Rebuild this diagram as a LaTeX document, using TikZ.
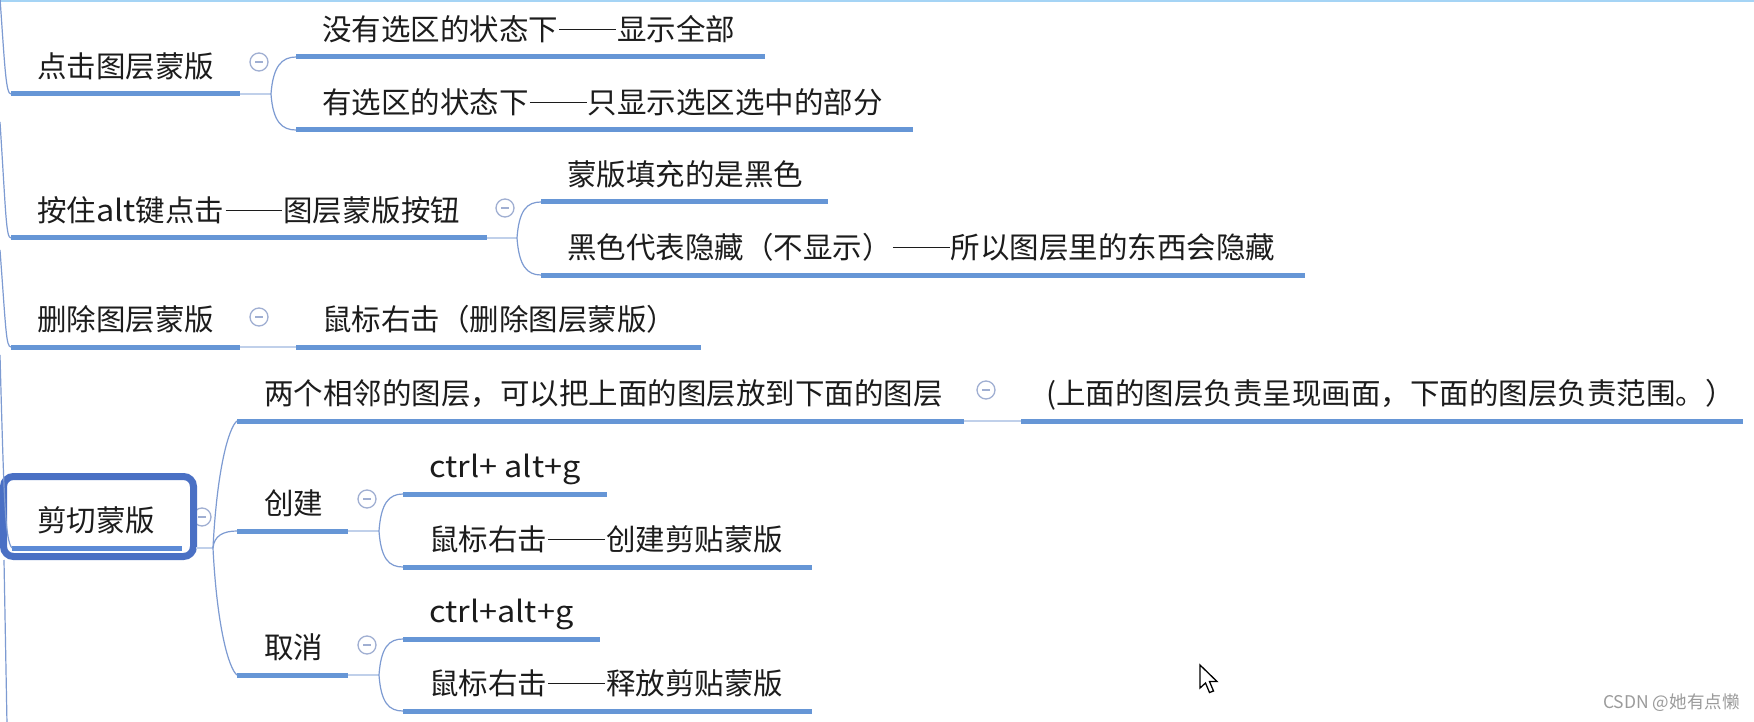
\documentclass[tikz,border=0pt]{standalone}
\usepackage{fontspec}
\setmainfont{Noto Sans CJK SC}
\newfontfamily\latw[FakeStretch=1.1]{Noto Sans CJK SC}
\usetikzlibrary{calc}
\definecolor{ulc}{RGB}{102,150,214}
\definecolor{ulc2}{RGB}{92,138,214}
\definecolor{boxc}{RGB}{74,112,196}
\definecolor{brc}{RGB}{125,155,210}
\definecolor{stc}{RGB}{192,208,234}
\definecolor{circc}{RGB}{160,175,210}
\definecolor{topc}{RGB}{165,212,245}
\definecolor{txtc}{RGB}{28,28,28}
\definecolor{wmc}{RGB}{155,155,155}

\newcommand\dd{\hspace{0.04em}\rule[0.34em]{1.92em}{0.06em}\hspace{0.04em}}
\newcommand\mytopic[6]{%
  \coordinate (#1-s) at (#2,#4);
  \coordinate (#1-e) at (#3,#4);
  \node[txt] (#1) at (#5,#4-16.5) {#6};
  \draw[uline] (#1-s) -- (#1-e);
}

\begin{document}
\begin{tikzpicture}[x=1pt,y=-1pt,
  txt/.style={anchor=base west, inner sep=0pt, font=\fontsize{29.5}{35}\selectfont, text=txtc},
  uline/.style={draw=ulc, line width=5pt},
  branch/.style={draw=brc, line width=1.2pt},
  stub/.style={draw=stc, line width=2.5pt},
  collapse/.style={circle, draw=circc, line width=1.3pt, fill=white, minimum size=18pt, inner sep=0pt,
    path picture={\draw[circc, line width=1.3pt] ([xshift=-4pt]path picture bounding box.center) -- ([xshift=4pt]path picture bounding box.center);}},
  rootbox/.style={draw=boxc, line width=7pt, rounded corners=10pt, minimum width=190pt, minimum height=80pt, inner sep=0pt},
  wmark/.style={anchor=west, inner sep=0pt, font=\fontsize{17.5}{20}\selectfont, text=wmc}
]
\useasboundingbox (0,0) rectangle (1754,722);
\fill[white] (0,0) rectangle (1754,722);
\draw[topc, line width=2pt] (0,1) -- (1754,1);

% ---- left incoming branches
\coordinate (L1) at (0,-2);
\coordinate (L2) at (0,122);
\coordinate (L3) at (0,250);
\coordinate (L4) at (0,355);
\coordinate (L5) at (4,560);
\coordinate (L5e) at (7,724);

% ---- junctions
\coordinate (jA) at (271,94);
\coordinate (jB) at (517,238);
\coordinate (jD) at (213,548);
\coordinate (jE2) at (379,531);
\coordinate (jE3) at (379,675);

% ---- topics
\mytopic{A}{11}{240}{94}{37}{点击图层蒙版}
\mytopic{A1}{296}{765}{57}{322}{没有选区的状态下\dd 显示全部}
\mytopic{A2}{296}{913}{130}{322}{有选区的状态下\dd 只显示选区选中的部分}
\mytopic{B}{11}{487}{238}{37}{按住{\latw alt}键点击\dd 图层蒙版按钮}
\mytopic{B1}{541}{828}{202}{567}{蒙版填充的是黑色}
\mytopic{B2}{541}{1305}{275}{567}{黑色代表隐藏（不显示）\dd 所以图层里的东西会隐藏}
\mytopic{C}{11}{240}{347}{37}{删除图层蒙版}
\mytopic{C1}{296}{701}{347}{322}{鼠标右击（删除图层蒙版）}
\mytopic{E1}{237}{964}{421}{264}{两个相邻的图层，可以把上面的图层放到下面的图层}
\mytopic{E1a}{1021}{1743}{421}{1046}{(上面的图层负责呈现画面，下面的图层负责范围。）}
\mytopic{E2}{237}{348}{531}{264}{创建}
\mytopic{E2a}{403}{607}{494}{429}{\latw ctrl+ alt+g}
\mytopic{E2b}{403}{812}{567}{429}{鼠标右击\dd 创建剪贴蒙版}
\mytopic{E3}{237}{348}{675}{264}{取消}
\mytopic{E3a}{403}{600}{639}{429}{\latw ctrl+alt+g}
\mytopic{E3b}{403}{812}{711}{429}{鼠标右击\dd 释放剪贴蒙版}

% ---- central boxed topic
\coordinate (D-s) at (12,548);
\coordinate (D-e) at (196,548);
\draw[draw=ulc2, line width=5pt] (D-s) -- (182,548);
\node[txt] (D) at (37,531.5) {剪切蒙版};
\node[collapse] (cD) at (202,517) {};
\node[rootbox] (Dbox) at (98.5,516.5) {};

% ---- left incoming curves
\draw[branch] (L1) .. controls (5,70) and (6,94) .. (A-s);
\draw[branch] (L2) .. controls (6,215) and (6,238) .. (B-s);
\draw[branch] (L3) .. controls (6,330) and (6,347) .. (C-s);
\draw[branch] (L4) .. controls (4,500) and (5,540) .. (D-s);
\draw[branch] (L5) -- (L5e);

% ---- stubs and branches
\draw[stub] (A-e) -- (jA);
\draw[branch] (jA) .. controls +(2,-28) and +(-14,0) .. (A1-s);
\draw[branch] (jA) .. controls +(2,28) and +(-14,0) .. (A2-s);
\draw[stub] (B-e) -- (jB);
\draw[branch] (jB) .. controls +(2,-28) and +(-14,0) .. (B1-s);
\draw[branch] (jB) .. controls +(2,28) and +(-14,0) .. (B2-s);
\draw[stub] (C-e) -- (C1-s);
\draw[stub] (D-e) -- (jD);
\draw[branch] (jD) .. controls +(4,-80) and +(-8,6) .. (E1-s);
\draw[branch] (jD) .. controls +(1,-12) and +(-14,0) .. (E2-s);
\draw[branch] (jD) .. controls +(4,80) and +(-8,-6) .. (E3-s);
\draw[stub] (E1-e) -- (E1a-s);
\draw[stub] (E2-e) -- (jE2);
\draw[branch] (jE2) .. controls +(2,-28) and +(-14,0) .. (E2a-s);
\draw[branch] (jE2) .. controls +(2,28) and +(-14,0) .. (E2b-s);
\draw[stub] (E3-e) -- (jE3);
\draw[branch] (jE3) .. controls +(2,-28) and +(-14,0) .. (E3a-s);
\draw[branch] (jE3) .. controls +(2,28) and +(-14,0) .. (E3b-s);

% ---- collapse markers
\node[collapse] (cA) at (259,62) {};
\node[collapse] (cB) at (505,208) {};
\node[collapse] (cC) at (259,317) {};
\node[collapse] (cE1) at (986,390) {};
\node[collapse] (cE2) at (367,499) {};
\node[collapse] (cE3) at (367,645) {};

% ---- mouse pointer
\draw[black, fill=white, line width=1.3pt, line join=miter]
  (1200,665) -- (1200,688) -- (1205.5,683) -- (1209.5,692.5) -- (1213.5,691) -- (1209.5,681.5) -- (1217,681.5) -- cycle;

% ---- watermark
\node[wmark] (wm) at (1603,703) {CSDN @她有点懒};
\end{tikzpicture}
\end{document}
